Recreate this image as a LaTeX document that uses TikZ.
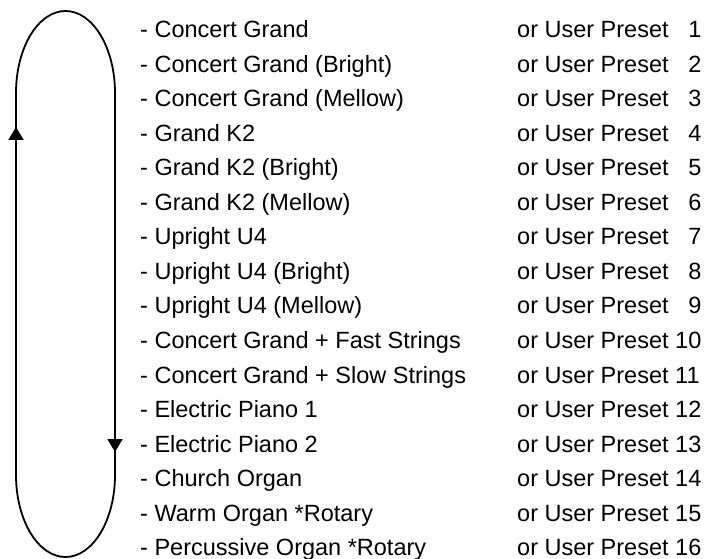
\documentclass[tikz,border=0pt]{standalone}
\usepackage{fontspec}
\setmainfont{Liberation Sans}
\usetikzlibrary{arrows.meta}
\begin{document}
\begin{tikzpicture}[x=1pt,y=1pt,
  item/.style={anchor=base west,inner sep=0pt,font=\fontsize{23.5}{28}\selectfont},
  loopline/.style={line width=1.8pt},
  looparrow/.style={line width=1.8pt,-{Triangle[width=15pt,length=13pt]}}]
\useasboundingbox (0,0) rectangle (710,558);
% loop
\draw[loopline] (16,465) arc[start angle=180,end angle=0,x radius=49.5,y radius=82]
  -- (115,83) arc[start angle=0,end angle=-180,x radius=49.5,y radius=82] -- cycle;
\coordinate (la) at (16,300);
\coordinate (lt) at (16,431);
\coordinate (ra) at (115,300);
\coordinate (rt) at (115,106);
\draw[looparrow] (la) -- (lt);
\draw[looparrow] (ra) -- (rt);
% items
\foreach \name/\num [count=\i from 0] in {
  Concert Grand/\phantom{1}1,
  Concert Grand (Bright)/\phantom{1}2,
  Concert Grand (Mellow)/\phantom{1}3,
  Grand K2/\phantom{1}4,
  Grand K2 (Bright)/\phantom{1}5,
  Grand K2 (Mellow)/\phantom{1}6,
  Upright U4/\phantom{1}7,
  Upright U4 (Bright)/\phantom{1}8,
  Upright U4 (Mellow)/\phantom{1}9,
  Concert Grand + Fast Strings/10,
  Concert Grand + Slow Strings/11,
  Electric Piano 1/12,
  Electric Piano 2/13,
  Church Organ/14,
  Warm Organ *Rotary/15,
  Percussive Organ *Rotary/16}{
  \node[item] (v\i) at (140,{520-34.5*\i}) {- \name};
  \node[item] (p\i) at (517,{520-34.5*\i}) {or User Preset \num};
}
\end{tikzpicture}
\end{document}
